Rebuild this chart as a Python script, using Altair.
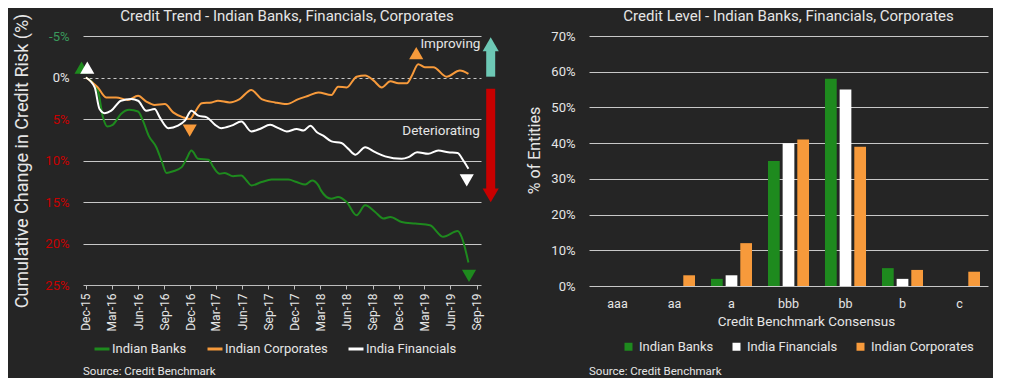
import altair as alt
import pandas as pd

# ---------------- colours ----------------
GREEN = "#1e8a1e"
ORANGE = "#f79a3b"
WHITE = "#ffffff"
TEAL = "#6dc8b5"
RED = "#c80000"
BG = "#252525"
TXT = "#e6e6e6"
GRID = "#c8c8c8"
FONT = "Roboto"

# ---------------- left chart data ----------------
SERIES_ORDER = ["Indian Banks", "Indian Corporates", "India Financials"]

BANK_DATES = ["2015-12-01", "2016-01-12", "2016-01-30", "2016-02-14", "2016-03-04", "2016-04-02",
              "2016-05-01", "2016-06-01", "2016-06-18", "2016-07-08", "2016-08-04", "2016-08-22",
              "2016-09-09", "2016-10-02", "2016-11-01", "2016-11-18", "2016-12-05", "2016-12-29",
              "2017-02-03", "2017-02-20", "2017-03-14", "2017-04-01", "2017-04-30", "2017-05-29",
              "2017-06-16", "2017-07-03", "2017-08-08", "2017-09-12", "2017-11-10", "2017-12-09",
              "2018-01-08", "2018-02-01", "2018-02-23", "2018-03-04", "2018-04-09", "2018-05-03",
              "2018-06-02", "2018-07-07", "2018-08-06", "2018-09-10", "2018-10-09", "2018-11-02",
              "2018-12-12", "2019-01-29", "2019-03-21", "2019-05-07", "2019-06-26", "2019-07-10",
              "2019-08-03"]
BANK_VALS = [0.0, 1.6, 4.8, 5.9, 5.7, 4.4,
             3.9, 4.1, 5.2, 7.0, 8.4, 10.0,
             11.5, 11.3, 10.8, 9.8, 8.8, 9.8,
             9.9, 10.8, 11.6, 11.5, 11.9, 11.8,
             12.4, 13.0, 12.6, 12.3, 12.3, 12.6,
             12.9, 12.4, 13.0, 13.6, 14.6, 14.4,
             15.0, 16.6, 15.4, 16.2, 17.0, 16.8,
             17.4, 17.6, 17.8, 19.2, 18.5, 19.2,
             22.3]

CORP_DATES = ["2015-12-01", "2016-01-12", "2016-02-10", "2016-03-16", "2016-04-26", "2016-06-01",
              "2016-06-30", "2016-07-29", "2016-09-03", "2016-10-02", "2016-11-06", "2016-11-30",
              "2016-12-17", "2017-01-10", "2017-02-14", "2017-03-08", "2017-04-18", "2017-05-23",
              "2017-07-03", "2017-08-08", "2017-09-24", "2017-11-04", "2017-12-15", "2018-01-19",
              "2018-02-23", "2018-04-10", "2018-05-03", "2018-06-02", "2018-07-07", "2018-08-06",
              "2018-09-04", "2018-10-03", "2018-11-02", "2018-12-01", "2018-12-30", "2019-01-17",
              "2019-02-08", "2019-03-03", "2019-04-02", "2019-05-18", "2019-07-04", "2019-08-03"]
CORP_VALS = [0.0, 1.2, 2.4, 2.4, 2.7, 2.2,
             2.9, 3.3, 3.2, 4.2, 4.8, 5.0,
             4.2, 3.1, 3.0, 2.8, 3.0, 2.6,
             1.5, 2.6, 3.0, 3.2, 2.6, 2.2,
             1.8, 2.1, 1.1, 1.2, -0.1, -0.25,
             0.35, 1.2, 0.45, 0.7, 0.7, -0.25,
             -1.6, -1.25, -1.25, -0.1, -0.85, -0.45]

FIN_DATES = ["2015-12-01", "2016-01-01", "2016-01-18", "2016-02-05", "2016-02-28", "2016-04-02",
             "2016-05-08", "2016-06-01", "2016-06-30", "2016-07-29", "2016-08-16", "2016-09-15",
             "2016-10-19", "2016-11-12", "2016-12-05", "2016-12-29", "2017-01-28", "2017-02-26",
             "2017-03-19", "2017-04-24", "2017-05-29", "2017-07-03", "2017-08-02", "2017-09-07",
             "2017-10-06", "2017-11-04", "2017-12-09", "2018-01-02", "2018-01-26", "2018-02-18",
             "2018-03-12", "2018-04-10", "2018-05-15", "2018-06-08", "2018-07-03", "2018-08-06",
             "2018-09-10", "2018-10-15", "2018-12-12", "2019-01-05", "2019-02-04", "2019-03-15",
             "2019-04-19", "2019-05-24", "2019-06-26", "2019-07-16", "2019-08-03"]
FIN_VALS = [0.0, 1.2, 3.8, 4.3, 4.0, 2.8,
            2.6, 2.8, 4.0, 3.8, 4.8, 6.1,
            5.8, 5.2, 4.0, 4.6, 4.8, 5.7,
            6.1, 5.8, 5.3, 6.5, 6.2, 5.7,
            6.1, 6.5, 6.2, 6.4, 5.8, 6.6,
            7.0, 7.7, 7.9, 8.6, 9.3, 8.4,
            9.0, 9.5, 9.8, 9.6, 9.0, 9.2,
            8.8, 9.0, 9.1, 10.0, 11.0]

# triangle markers
MARK_DATES = ["2015-11-16", "2015-12-06", "2016-11-29", "2019-02-01", "2019-07-28", "2019-08-05"]
MARK_VALS = [-1.2, -1.2, 6.4, -2.95, 12.4, 23.9]
MARK_SHAPES = ["triangle-up", "triangle-up", "triangle-down", "triangle-up", "triangle-down", "triangle-down"]
MARK_COLORS = [GREEN, WHITE, ORANGE, ORANGE, WHITE, GREEN]

# improving / deteriorating arrows
ARROW_DATES = ["2019-10-20", "2019-10-20"]
ARROW_FROM = [-0.1, 1.35]
ARROW_TO = [-3.4, 13.5]
ARROW_HEAD = [-4.0, 14.2]
ARROW_SHAPES = ["triangle-up", "triangle-down"]
ARROW_COLORS = [TEAL, RED]

NOTE_TEXT = ["Improving", "Deteriorating"]
NOTE_DATES = ["2019-09-14", "2019-09-12"]
NOTE_VALS = [-3.98, 6.5]

TICK_MONTHS = ["2015-12-01", "2016-03-01", "2016-06-01", "2016-09-01", "2016-12-01", "2017-03-01",
               "2017-06-01", "2017-09-01", "2017-12-01", "2018-03-01", "2018-06-01", "2018-09-01",
               "2018-12-01", "2019-03-01", "2019-06-01", "2019-09-01"]
Y_TICKS = [-5, 0, 5, 10, 15, 20, 25]

# ---------------- right chart data ----------------
GRADES = ["aaa", "aa", "a", "bbb", "bb", "b", "c"]
BAR_ORDER = ["Indian Banks", "India Financials", "Indian Corporates"]
BANKS_PCT = [0, 0, 2, 35, 58, 5, 0]
FIN_PCT = [0, 0, 3, 40, 55, 2, 0]
CORP_PCT = [0, 3, 12, 41, 39, 4.5, 4]

# ---------------- build tables ----------------
rows = []
for name, ds, vs in [("Indian Banks", BANK_DATES, BANK_VALS),
                     ("Indian Corporates", CORP_DATES, CORP_VALS),
                     ("India Financials", FIN_DATES, FIN_VALS)]:
    for d, v in zip(ds, vs):
        rows.append({"date": d, "value": v, "series": name})
lines_df = pd.DataFrame(rows)

points_rows = []
for d, v, s, c in zip(MARK_DATES, MARK_VALS, MARK_SHAPES, MARK_COLORS):
    points_rows.append({"date": d, "value": v, "shp": s, "clr": c, "sz": 200})
for d, v, s, c in zip(ARROW_DATES, ARROW_HEAD, ARROW_SHAPES, ARROW_COLORS):
    points_rows.append({"date": d, "value": v, "shp": s, "clr": c, "sz": 260})
points_df = pd.DataFrame(points_rows)

arrows_df = pd.DataFrame({"date": ARROW_DATES, "value": ARROW_FROM, "v2": ARROW_TO, "clr": ARROW_COLORS})
notes_df = pd.DataFrame({"date": NOTE_DATES, "value": NOTE_VALS, "txt": NOTE_TEXT})
source_df = pd.DataFrame({"txt": ["Source: Credit Benchmark"]})

bar_rows = []
for name, vals in [("Indian Banks", BANKS_PCT), ("India Financials", FIN_PCT), ("Indian Corporates", CORP_PCT)]:
    for g, v in zip(GRADES, vals):
        bar_rows.append({"grade": g, "pct": v, "group": name})
bars_df = pd.DataFrame(bar_rows)


def ms(s):
    return int(pd.Timestamp(s, tz="UTC").value // 10**6)


x_scale = alt.Scale(type="utc", domain=[ms("2015-11-21"), ms("2019-09-16")])
y_scale = alt.Scale(domain=[-5, 25], reverse=True, nice=False, zero=False)

x_axis = alt.Axis(values=[ms(t) for t in TICK_MONTHS], format="%b-%y",
                  labelAngle=-90,
                  labelFontSize=12, labelColor=TXT, labelFont=FONT, labelPadding=4,
                  labelOverlap=False, labelBound=False, labelFlush=False,
                  domainColor="#bdbdbd", tickColor="#bdbdbd", tickSize=4, grid=False,
                  title=None)
y_axis = alt.Axis(values=Y_TICKS, labelExpr="datum.value + '%'", labelFontSize=13,
                  labelFont=FONT,
                  labelColor={"condition": [{"test": "datum.value < 0", "value": "#3a9a5c"},
                                            {"test": "datum.value == 0", "value": TXT}],
                              "value": RED},
                  labelPadding=14, domain=False, ticks=False,
                  gridColor=GRID, gridWidth=1,
                  gridDash={"condition": {"test": "datum.value == 0", "value": [3, 3]}, "value": []},
                  gridOpacity={"condition": {"test": "datum.value == 25", "value": 0}, "value": 1},
                  title="Cumulative Change in Credit Risk (%)", titleFontSize=18,
                  titleFont=FONT, titleFontWeight="normal", titleColor=TXT, titlePadding=13)

X = alt.X("date:T", scale=x_scale, axis=x_axis)
Y = alt.Y("value:Q", scale=y_scale, axis=y_axis)

lines = alt.Chart(lines_df).mark_line(strokeWidth=2, interpolate="monotone").encode(
    x=X, y=Y,
    color=alt.Color("series:N", sort=SERIES_ORDER,
                    scale=alt.Scale(domain=SERIES_ORDER, range=[GREEN, ORANGE, WHITE]),
                    legend=alt.Legend(orient="none", legendX=10, legendY=304, direction="horizontal",
                                      title=None, symbolType="stroke", symbolStrokeWidth=3,
                                      symbolSize=225, labelFontSize=13, labelFont=FONT,
                                      labelColor=TXT, columnPadding=14, labelOffset=1)),
    order=alt.Order("date:T"))

shafts = alt.Chart(arrows_df).mark_rule(strokeWidth=9, strokeCap="butt").encode(
    x=X, y=Y, y2="v2:Q",
    stroke=alt.Stroke("clr:N", scale=None))

pts = alt.Chart(points_df).mark_point(filled=True, opacity=1, strokeWidth=0).encode(
    x=X, y=Y,
    fill=alt.Fill("clr:N", scale=None), shape=alt.Shape("shp:N", scale=None),
    size=alt.Size("sz:Q", scale=None))

notes = alt.Chart(notes_df).mark_text(align="right", baseline="middle", fontSize=13.5, font=FONT,
                                      color=TXT).encode(
    x=X, y=Y, text="txt:N")

src_left = alt.Chart(source_df).mark_text(align="left", baseline="middle", fontSize=11.5, font=FONT,
                                         color=TXT).encode(
    x=alt.value(0), y=alt.value(336), text="txt:N")

left = alt.layer(lines, shafts, pts, notes, src_left).properties(
    width=398, height=249,
    title=alt.TitleParams("Credit Trend - Indian Banks, Financials, Corporates", fontSize=15,
                          font=FONT, fontWeight="normal", color=TXT, anchor="middle",
                          frame="group", offset=-11, dx=5))

# ---------------- right chart ----------------
bars = alt.Chart(bars_df).mark_bar().encode(
    x=alt.X("grade:N", sort=GRADES, scale=alt.Scale(paddingInner=0.28, paddingOuter=0.14),
            axis=alt.Axis(labelAngle=0, labelFontSize=12.5, labelFont=FONT, labelColor=TXT,
                          labelPadding=11, ticks=False, domain=False,
                          title="Credit Benchmark Consensus", titleFontSize=13.5, titleFont=FONT,
                          titleFontWeight="normal", titleColor=TXT, titlePadding=5, titleX=217)),
    xOffset=alt.XOffset("group:N", sort=BAR_ORDER, scale=alt.Scale(paddingInner=0.2, paddingOuter=0)),
    y=alt.Y("pct:Q", scale=alt.Scale(domain=[0, 70], nice=False),
            axis=alt.Axis(values=[0, 10, 20, 30, 40, 50, 60, 70], labelExpr="datum.value + '%'",
                          labelFontSize=13, labelFont=FONT, labelColor=TXT, labelPadding=14,
                          domain=False, ticks=False, gridColor=GRID, gridWidth=1,
                          title="% of Entities", titleFontSize=16, titleFont=FONT,
                          titleFontWeight="normal", titleColor=TXT, titlePadding=8, titleY=114)),
    color=alt.Color("group:N", sort=BAR_ORDER,
                    scale=alt.Scale(domain=BAR_ORDER, range=[GREEN, WHITE, ORANGE]),
                    legend=alt.Legend(orient="none", legendX=33, legendY=304, direction="horizontal",
                                      title=None, symbolType="square", symbolSize=64,
                                      symbolStrokeWidth=0, labelFontSize=13, labelFont=FONT,
                                      labelColor=TXT, columnPadding=16, labelOffset=4)))

src_right = alt.Chart(source_df).mark_text(align="left", baseline="middle", fontSize=11.5, font=FONT,
                                          color=TXT).encode(
    x=alt.value(0), y=alt.value(336), text="txt:N")

right = alt.layer(bars, src_right).properties(
    width=399, height=250,
    title=alt.TitleParams("Credit Level - Indian Banks, Financials, Corporates", fontSize=15,
                          font=FONT, fontWeight="normal", color=TXT, anchor="middle",
                          frame="group", offset=6))

chart = alt.hconcat(left, right, spacing=108, bounds="flush").resolve_scale(
    color="independent").resolve_legend(color="independent").configure(
    background=BG, font=FONT, padding={"left": 5, "right": 5, "top": 1, "bottom": 0}
).configure_view(stroke=None)

chart.save("out.html", embed_options={"renderer": "svg", "actions": False})
